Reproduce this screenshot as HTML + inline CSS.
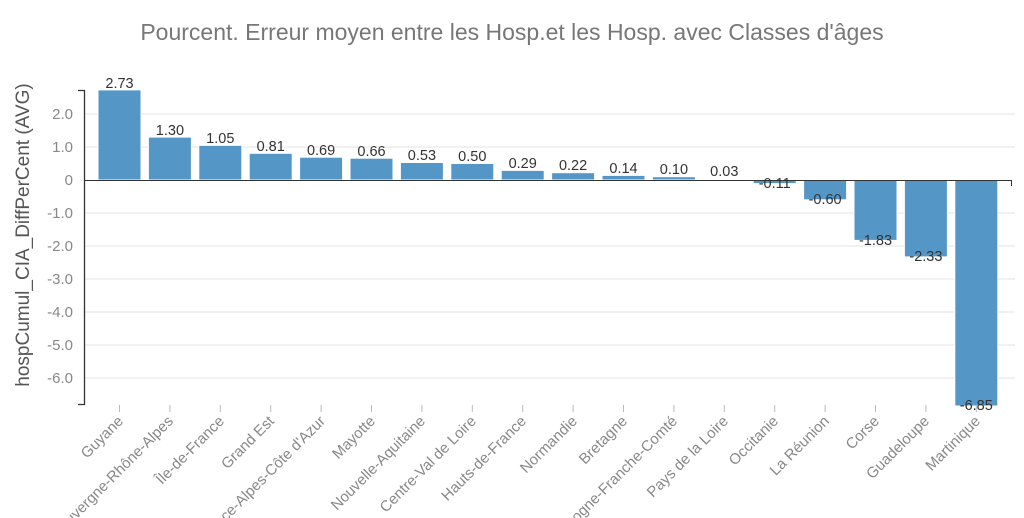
<!DOCTYPE html>
<html><head><meta charset="utf-8"><style>
html,body{margin:0;padding:0;background:#fff;width:1024px;height:518px;overflow:hidden}
svg{display:block;font-family:"Liberation Sans",Arial,sans-serif}
.g{stroke:#e3e3e3;stroke-width:1}
.yl{fill:#888;font-size:15px;text-anchor:end}
.xl{fill:#888;font-size:15px;text-anchor:end}
.v{fill:#333;font-size:14.5px;text-anchor:middle}
rect{fill:#5497c6;stroke:#fff;stroke-width:1}
</style></head><body>
<svg width="1024" height="518" viewBox="0 0 1024 518" overflow="hidden">
<text x="512" y="40" text-anchor="middle" font-size="23" fill="#777">Pourcent. Erreur moyen entre les Hosp.et les Hosp. avec Classes d'âges</text>
<g>
<line class="g" x1="85" x2="1015" y1="114" y2="114"/>
<line class="g" x1="85" x2="1015" y1="147" y2="147"/>
<line class="g" x1="85" x2="1015" y1="213" y2="213"/>
<line class="g" x1="85" x2="1015" y1="246" y2="246"/>
<line class="g" x1="85" x2="1015" y1="279" y2="279"/>
<line class="g" x1="85" x2="1015" y1="312" y2="312"/>
<line class="g" x1="85" x2="1015" y1="345" y2="345"/>
<line class="g" x1="85" x2="1015" y1="378" y2="378"/>
</g>
<g class="yl">
<text x="73" y="119">2.0</text><text x="73" y="152">1.0</text><text x="73" y="185">0</text>
<text x="73" y="218">-1.0</text><text x="73" y="251">-2.0</text><text x="73" y="284">-3.0</text>
<text x="73" y="317">-4.0</text><text x="73" y="350">-5.0</text><text x="73" y="383">-6.0</text>
</g>
<text transform="translate(29,235) rotate(-90)" text-anchor="middle" font-size="19" fill="#555">hospCumul_CIA_DiffPerCent (AVG)</text>
<g>
<rect x="98" y="89.9" width="43" height="90.1"/>
<rect x="148.4" y="137.1" width="43" height="42.9"/>
<rect x="198.8" y="145.35" width="43" height="34.65"/>
<rect x="249.2" y="153.3" width="43" height="26.7"/>
<rect x="299.6" y="157.2" width="43" height="22.8"/>
<rect x="350" y="158.2" width="43" height="21.8"/>
<rect x="400.4" y="162.5" width="43" height="17.5"/>
<rect x="450.8" y="163.5" width="43" height="16.5"/>
<rect x="501.2" y="170.4" width="43" height="9.6"/>
<rect x="551.6" y="172.7" width="43" height="7.3"/>
<rect x="602" y="175.4" width="43" height="4.6"/>
<rect x="652.4" y="176.7" width="43" height="3.3"/>
<rect x="702.8" y="179" width="43" height="1"/>
<rect x="753.2" y="180" width="43" height="3.6"/>
<rect x="803.6" y="180" width="43" height="19.8"/>
<rect x="854" y="180" width="43" height="60.4"/>
<rect x="904.4" y="180" width="43" height="76.9"/>
<rect x="954.8" y="180" width="43" height="226"/>
</g>
<g class="v">
<text x="119.5" y="88">2.73</text><text x="169.9" y="135">1.30</text><text x="220.3" y="143">1.05</text>
<text x="270.7" y="151">0.81</text><text x="321.1" y="155">0.69</text><text x="371.5" y="156">0.66</text>
<text x="421.9" y="160">0.53</text><text x="472.3" y="161">0.50</text><text x="522.7" y="168">0.29</text>
<text x="573.1" y="170">0.22</text><text x="623.5" y="173">0.14</text><text x="673.9" y="174">0.10</text>
<text x="724.3" y="176">0.03</text><text x="774.7" y="188">-0.11</text><text x="825.1" y="204">-0.60</text>
<text x="875.5" y="245">-1.83</text><text x="925.9" y="261">-2.33</text><text x="976.3" y="410">-6.85</text>
</g>
<line x1="84" x2="1012" y1="180.5" y2="180.5" stroke="#333" stroke-width="1"/>
<line x1="1011.5" x2="1011.5" y1="180" y2="186" stroke="#333"/>
<path d="M78 90.5H84.5V404.5H78" fill="none" stroke="#333" stroke-width="1.3"/>
<g stroke="#bbb">
<line x1="119.5" x2="119.5" y1="405" y2="412"/><line x1="169.9" x2="169.9" y1="405" y2="412"/>
<line x1="220.3" x2="220.3" y1="405" y2="412"/><line x1="270.7" x2="270.7" y1="405" y2="412"/>
<line x1="321.1" x2="321.1" y1="405" y2="412"/><line x1="371.5" x2="371.5" y1="405" y2="412"/>
<line x1="421.9" x2="421.9" y1="405" y2="412"/><line x1="472.3" x2="472.3" y1="405" y2="412"/>
<line x1="522.7" x2="522.7" y1="405" y2="412"/><line x1="573.1" x2="573.1" y1="405" y2="412"/>
<line x1="623.5" x2="623.5" y1="405" y2="412"/><line x1="673.9" x2="673.9" y1="405" y2="412"/>
<line x1="724.3" x2="724.3" y1="405" y2="412"/><line x1="774.7" x2="774.7" y1="405" y2="412"/>
<line x1="825.1" x2="825.1" y1="405" y2="412"/><line x1="875.5" x2="875.5" y1="405" y2="412"/>
<line x1="925.9" x2="925.9" y1="405" y2="412"/><line x1="976.3" x2="976.3" y1="405" y2="412"/>
</g>
<g class="xl">
<text transform="translate(124,422) rotate(-45)">Guyane</text>
<text transform="translate(174,422) rotate(-45)">Auvergne-Rhône-Alpes</text>
<text transform="translate(225,422) rotate(-45)">Île-de-France</text>
<text transform="translate(275,422) rotate(-45)">Grand Est</text>
<text transform="translate(326,422) rotate(-45)">Provence-Alpes-Côte d'Azur</text>
<text transform="translate(376,422) rotate(-45)">Mayotte</text>
<text transform="translate(426,422) rotate(-45)">Nouvelle-Aquitaine</text>
<text transform="translate(477,422) rotate(-45)">Centre-Val de Loire</text>
<text transform="translate(527,422) rotate(-45)">Hauts-de-France</text>
<text transform="translate(578,422) rotate(-45)">Normandie</text>
<text transform="translate(628,422) rotate(-45)">Bretagne</text>
<text transform="translate(678,422) rotate(-45)">Bourgogne-Franche-Comté</text>
<text transform="translate(729,422) rotate(-45)">Pays de la Loire</text>
<text transform="translate(779,422) rotate(-45)">Occitanie</text>
<text transform="translate(830,422) rotate(-45)">La Réunion</text>
<text transform="translate(880,422) rotate(-45)">Corse</text>
<text transform="translate(930,422) rotate(-45)">Guadeloupe</text>
<text transform="translate(981,422) rotate(-45)">Martinique</text>
</g>
</svg>
</body></html>
